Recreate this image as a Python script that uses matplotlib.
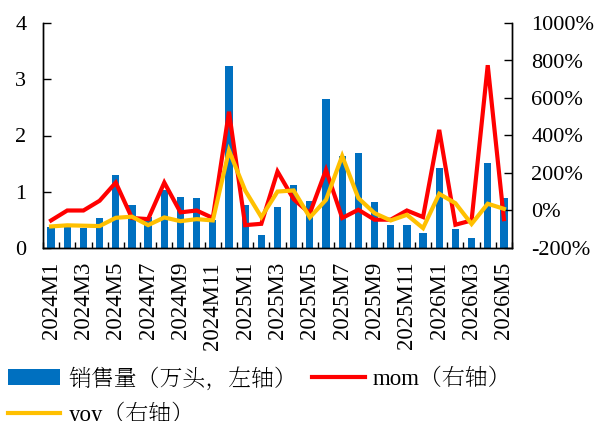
import matplotlib
matplotlib.use("Agg")
import matplotlib.pyplot as plt
from matplotlib.ticker import FixedLocator, FuncFormatter
import numpy as np

plt.rcParams['font.family'] = ['Liberation Serif', 'Noto Serif SC', 'Noto Sans CJK SC']

# ---- data ----
months = [f"{y}M{m}" for y in (2024, 2025) for m in range(1, 13)] + \
         [f"2026M{m}" for m in range(1, 6)]
sales = [0.37, 0.37, 0.35, 0.53, 1.30, 0.77, 0.55, 1.03, 0.90, 0.88, 0.50, 3.24,
         0.76, 0.23, 0.72, 1.12, 0.84, 2.65, 1.64, 1.69, 0.81, 0.40, 0.40, 0.27,
         1.42, 0.33, 0.17, 1.51, 0.88]
mom = [-53, 0, 0, 52, 149, -40, -46, 149, -10, 0, -40, 527,
       -78, -71, 208, 60, -15, 217, -40, 4, -49, -49, 0, -35,
       430, -76, -53, 775, -46]
yoy = [-85, -79, -81, -83, -39, -33, -78, -37, -57, -46, -53, 320,
       107, -35, 101, 107, -37, 57, 291, 66, -14, -53, -23, -94,
       89, 39, -72, 36, 9]

BLUE = '#0070C0'
RED = '#FF0000'
YELLOW = '#FFC000'
FS = 16

x = np.arange(len(months))

fig = plt.figure(figsize=(6.01, 4.21), dpi=100)
ax = fig.add_axes([43 / 601, 1 - 248 / 421, (512 - 43) / 601, 225 / 421])
ax2 = ax.twinx()

bars = ax.bar(x, sales, width=0.45, color=BLUE, label='销售量（万头，左轴）', zorder=2)
l1, = ax2.plot(x, mom, color=RED, lw=3, label='mom（右轴）', solid_joinstyle='miter')
l2, = ax2.plot(x, yoy, color=YELLOW, lw=3, label='yoy（右轴）', solid_joinstyle='miter')

ax.set_xlim(-0.5, len(months) - 0.5)
ax.set_ylim(0, 4)
ax.set_yticks([0, 1, 2, 3, 4])
ax2.set_ylim(-200, 1000)
ax2.set_yticks(range(-200, 1001, 200))
ax2.yaxis.set_major_formatter(FuncFormatter(lambda v, p: f"{int(v)}%"))

# x labels every 2 months, tick marks at category boundaries
ax.set_xticks(x[::2])
ax.set_xticklabels(months[::2], rotation=90, fontsize=FS + 0.5)
ax.xaxis.set_minor_locator(FixedLocator(np.arange(-0.5, len(months), 1)))
ax.tick_params(axis='x', which='major', length=0, pad=10)
ax.tick_params(axis='x', which='minor', direction='in', length=4, width=1)

ax.tick_params(axis='y', direction='in', length=6, width=1, labelsize=FS, pad=12)
ax2.tick_params(axis='y', direction='in', length=6, width=1, labelsize=FS, pad=14)

for a in (ax, ax2):
    a.spines['top'].set_visible(False)
    for s in ('left', 'right', 'bottom'):
        a.spines[s].set_linewidth(1)
ax.set_zorder(1)
ax2.set_zorder(2)
ax.patch.set_visible(False)

# matplotlib fills legend columns first, so order handles for row-wise look
fig.legend(handles=[bars, l2, l1], loc='upper left',
           bbox_to_anchor=(0.005, 1 - 362 / 421), ncol=2, frameon=False,
           fontsize=FS + 0.5, handlelength=2.3, handletextpad=0.35,
           columnspacing=0.65, borderaxespad=0, borderpad=0.2,
           labelspacing=0.5)

fig.savefig('out.png', dpi=100)
